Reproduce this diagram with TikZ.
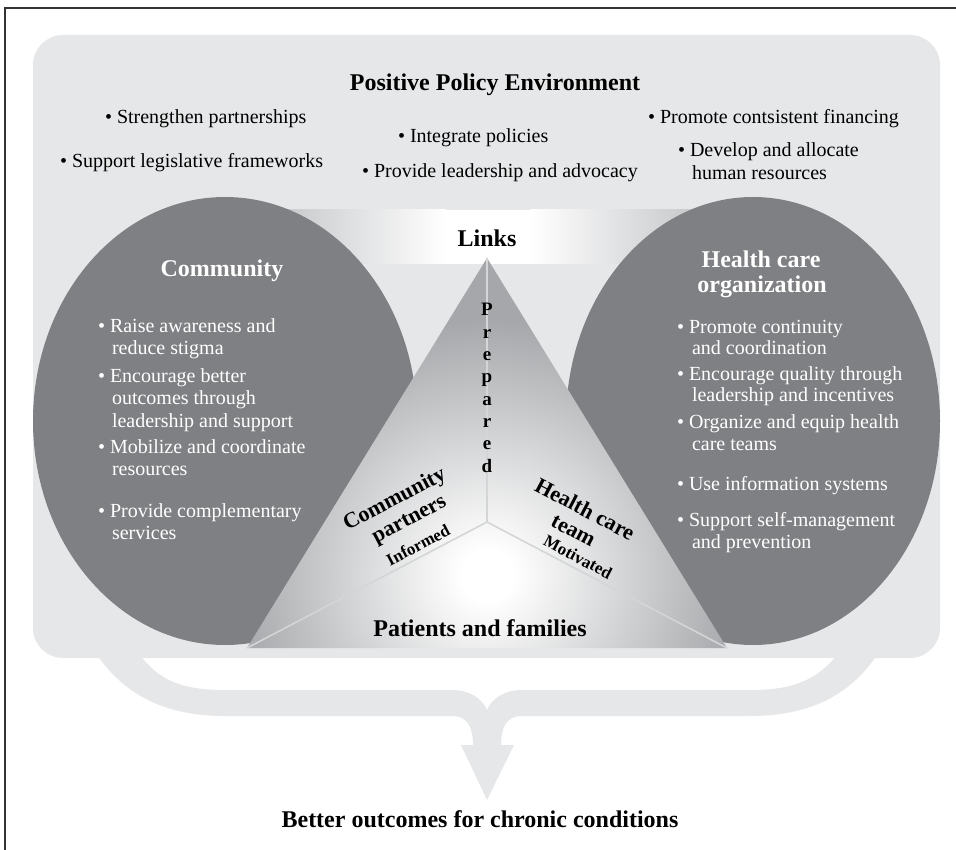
\documentclass[tikz,border=0pt]{standalone}
\usepackage{fontspec}
\setmainfont{Liberation Serif}
\definecolor{policy}{HTML}{E6E7E8}
\definecolor{ellgray}{HTML}{7F8083}
\definecolor{banddark}{HTML}{B9BBBE}
\definecolor{tridark}{HTML}{A5A7AA}
\definecolor{yline}{HTML}{D3D5D6}
\definecolor{frameline}{HTML}{333333}
\pgfdeclareradialshading{trishade}{\pgfpointorigin}{color(0bp)=(white); color(2bp)=(white); color(20bp)=(tridark); color(25bp)=(tridark); color(50bp)=(tridark)}
\tikzset{
  every node/.style={inner sep=0pt, outer sep=0pt},
  head/.style={font=\fontsize{24}{28}\selectfont\bfseries, text=black, anchor=base},
  whead/.style={head, text=white},
  body/.style={font=\fontsize{20}{22}\selectfont, text=black, anchor=base west},
  wbody/.style={body, text=white},
  letterstyle/.style={font=\fontsize{19}{21}\selectfont\bfseries, text=black, anchor=base},
  trilab/.style={font=\fontsize{22}{24}\selectfont\bfseries, text=black, anchor=center},
  trismall/.style={font=\fontsize{17}{19}\selectfont\bfseries, text=black, anchor=center},
}
\begin{document}
\begin{tikzpicture}[x=1pt,y=-1pt]
\useasboundingbox (0,0) rectangle (956,850);
% frame
\draw[line width=1.2pt, frameline] (5,850) -- (5,8) -- (956,8);
% policy environment
\fill[policy, rounded corners=30pt] (33,35) rectangle (940,658);
% brace arrow
\fill[policy] (97,655) .. controls (125,695) and (165,716) .. (225,716) -- (452,716)
  .. controls (468,716) and (473,728) .. (473,745) -- (461,745) -- (487,800) -- (514,745) -- (501,745)
  .. controls (501,728) and (506,716) .. (522,716) -- (750,716)
  .. controls (810,716) and (850,695) .. (877,655) -- (837,655)
  .. controls (815,682) and (790,690) .. (750,690) -- (522,690)
  .. controls (505,690) and (492,698) .. (487,710)
  .. controls (482,698) and (469,690) .. (452,690) -- (225,690)
  .. controls (185,690) and (160,682) .. (140,655) -- cycle;
% links band
\shade[left color=banddark, right color=white] (240,210) rectangle (446,264);
\fill[white] (445,210) rectangle (531,264);
\shade[left color=white, right color=banddark] (530,210) rectangle (735,264);
% ellipses
\fill[ellgray] (225,421) ellipse [x radius=192pt, y radius=224pt];
\fill[ellgray] (753,421) ellipse [x radius=187pt, y radius=224pt];
% triangle
\coordinate (apex) at (487,258);
\coordinate (bl) at (247,648);
\coordinate (br) at (727,648);
\coordinate (yc) at (487,522);
\begin{scope}
  \clip (apex) -- (br) -- (bl) -- cycle;
  \shade[shading=trishade] (487,575) circle [radius=320pt];
\end{scope}
\draw[yline, line width=1.6pt] (apex) -- (yc) (bl) -- (yc) -- (br);
% title and top bullets
\node[head] (title) at (495,91) {Positive Policy Environment};
\node[body] (s1) at (105,124) {\textbullet\ Strengthen partnerships};
\node[body] (s2) at (60,168) {\textbullet\ Support legislative frameworks};
\node[body] (s3) at (398,143) {\textbullet\ Integrate policies};
\node[body] (s4) at (362,178) {\textbullet\ Provide leadership and advocacy};
\node[body] (s5) at (648,124) {\textbullet\ Promote contsistent financing};
\node[body] (s6) at (678,157) {\textbullet\ Develop and allocate};
\node[body] (s7) at (692,180) {human resources};
% links
\node[head] (links) at (487,247) {Links};
% community
\node[whead] (comm) at (222,277) {Community};
\node[wbody] (l1) at (98,333) {\textbullet\ Raise awareness and};
\node[wbody] (l2) at (112,355) {reduce stigma};
\node[wbody] (l3) at (98,382) {\textbullet\ Encourage better};
\node[wbody] (l4) at (112,404) {outcomes through};
\node[wbody] (l5) at (112,427) {leadership and support};
\node[wbody] (l6) at (98,453) {\textbullet\ Mobilize and coordinate};
\node[wbody] (l7) at (112,475) {resources};
\node[wbody] (l8) at (98,517) {\textbullet\ Provide complementary};
\node[wbody] (l9) at (112,539) {services};
% health care organization
\node[whead] (hco1) at (761,268) {Health care};
\node[whead] (hco2) at (762,293) {organization};
\node[wbody] (r1) at (677,334) {\textbullet\ Promote continuity};
\node[wbody] (r2) at (692,355) {and coordination};
\node[wbody] (r3) at (677,380) {\textbullet\ Encourage quality through};
\node[wbody] (r4) at (692,401) {leadership and incentives};
\node[wbody] (r5) at (677,428) {\textbullet\ Organize and equip health};
\node[wbody] (r6) at (692,450) {care teams};
\node[wbody] (r7) at (677,490) {\textbullet\ Use information systems};
\node[wbody] (r8) at (677,526) {\textbullet\ Support self-management};
\node[wbody] (r9) at (692,548) {and prevention};
% prepared
\node[letterstyle] (p1) at (487,316) {P};
\node[letterstyle] (p2) at (487,338.3) {r};
\node[letterstyle] (p3) at (487,360.6) {e};
\node[letterstyle] (p4) at (487,382.9) {p};
\node[letterstyle] (p5) at (487,405.2) {a};
\node[letterstyle] (p6) at (487,427.5) {r};
\node[letterstyle] (p7) at (487,449.8) {e};
\node[letterstyle] (p8) at (487,472.1) {d};
% community partners
\node[trilab, rotate=27.7] (cp1) at (395,500) {Community};
\node[trilab, rotate=27.7] (cp2) at (410,521) {partners};
\node[trismall, rotate=27.7] (cp3) at (418,545) {Informed};
% health care team
\node[trilab, rotate=-27.7] (ht1) at (585,509) {Health care};
\node[trilab, rotate=-27.7] (ht2) at (573,531) {team};
\node[trismall, rotate=-27.7] (ht3) at (578,557) {Motivated};
% patients
\node[head] (pat) at (480,636) {Patients and families};
% outcome
\node[head] (out) at (480,827) {Better outcomes for chronic conditions};
\end{tikzpicture}
\end{document}
